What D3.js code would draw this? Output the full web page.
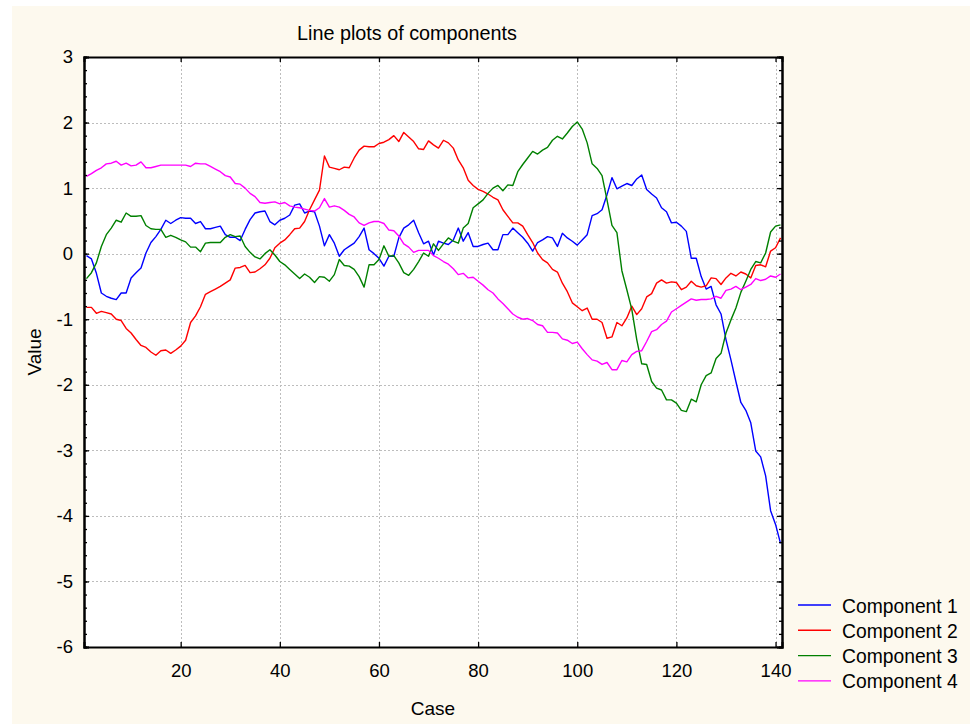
<!DOCTYPE html>
<html>
<head>
<meta charset="utf-8">
<script src="https://cdn.jsdelivr.net/npm/d3@7"></script>
<style>
  body { margin: 0; background: #ffffff; }
  text { font-family: "Liberation Sans", Arial, sans-serif; fill: #000; }
</style>
</head>
<body>
<div id="chart"></div>
<script>
// Data
const seriesNames = ["Component 1", "Component 2", "Component 3", "Component 4"];
const seriesColors = ["#0000ff", "#ff0000", "#008000", "#ff00ff"];
const yTicks = [3, 2, 1, 0, -1, -2, -3, -4, -5, -6];
const xTicks = [20, 40, 60, 80, 100, 120, 140];

const component1 = [
  -0.03, -0.08, -0.30, -0.60, -0.65, -0.68, -0.70, -0.60, -0.60, -0.37,
  -0.29, -0.22, 0.01, 0.17, 0.26, 0.37, 0.51, 0.46, 0.51, 0.55,
  0.54, 0.54, 0.46, 0.49, 0.38, 0.38, 0.40, 0.42, 0.29, 0.25,
  0.25, 0.20, 0.37, 0.52, 0.62, 0.64, 0.65, 0.49, 0.44, 0.51,
  0.54, 0.59, 0.74, 0.76, 0.62, 0.65, 0.64, 0.42, 0.12, 0.29,
  0.16, -0.04, 0.06, 0.11, 0.16, 0.26, 0.39, 0.06, 0.00, -0.07,
  -0.19, -0.04, -0.04, 0.24, 0.39, 0.44, 0.51, 0.32, 0.15, 0.19,
  -0.02, 0.19, 0.16, 0.14, 0.21, 0.39, 0.19, 0.32, 0.11, 0.11,
  0.14, 0.16, 0.06, 0.06, 0.29, 0.29, 0.39, 0.32, 0.25, 0.16,
  0.04, 0.17, 0.21, 0.26, 0.24, 0.11, 0.31, 0.24, 0.19, 0.13,
  0.21, 0.29, 0.58, 0.61, 0.67, 0.90, 1.16, 0.99, 1.03, 1.07,
  1.04, 1.14, 1.20, 0.98, 0.91, 0.85, 0.70, 0.64, 0.47, 0.48,
  0.42, 0.34, -0.07, -0.07, -0.35, -0.54, -0.50, -0.78, -0.92, -1.31,
  -1.62, -1.95, -2.27, -2.39, -2.58, -3.01, -3.10, -3.39, -3.92, -4.13,
  -4.42
];
const component2 = [
  -0.82, -0.82, -0.91, -0.88, -0.90, -0.92, -1.00, -1.02, -1.14, -1.21,
  -1.31, -1.40, -1.43, -1.50, -1.55, -1.48, -1.47, -1.52, -1.47, -1.41,
  -1.32, -1.05, -0.95, -0.81, -0.62, -0.58, -0.54, -0.50, -0.45, -0.40,
  -0.22, -0.21, -0.18, -0.29, -0.28, -0.23, -0.17, -0.07, 0.09, 0.16,
  0.21, 0.29, 0.38, 0.39, 0.49, 0.67, 0.82, 0.97, 1.49, 1.32,
  1.30, 1.28, 1.32, 1.31, 1.46, 1.58, 1.64, 1.63, 1.63, 1.68,
  1.70, 1.74, 1.80, 1.71, 1.85, 1.78, 1.71, 1.60, 1.59, 1.72,
  1.66, 1.61, 1.73, 1.69, 1.61, 1.43, 1.31, 1.12, 1.04, 0.98,
  0.95, 0.91, 0.86, 0.82, 0.67, 0.57, 0.47, 0.47, 0.42, 0.29,
  0.17, 0.01, -0.09, -0.14, -0.24, -0.28, -0.45, -0.58, -0.75, -0.81,
  -0.87, -0.83, -1.00, -1.00, -1.05, -1.29, -1.27, -1.05, -1.10, -0.98,
  -0.80, -0.93, -0.84, -0.66, -0.61, -0.45, -0.40, -0.45, -0.43, -0.44,
  -0.55, -0.51, -0.42, -0.49, -0.51, -0.49, -0.37, -0.38, -0.47, -0.37,
  -0.30, -0.34, -0.28, -0.31, -0.37, -0.18, -0.17, -0.20, 0.04, 0.09,
  0.24
];
const component3 = [
  -0.38, -0.29, -0.14, 0.11, 0.29, 0.39, 0.51, 0.48, 0.62, 0.57,
  0.57, 0.58, 0.43, 0.38, 0.37, 0.37, 0.25, 0.28, 0.25, 0.21,
  0.18, 0.10, 0.10, 0.03, 0.16, 0.17, 0.17, 0.17, 0.25, 0.29,
  0.26, 0.27, 0.11, 0.02, -0.05, -0.08, 0.00, 0.06, -0.02, -0.12,
  -0.17, -0.24, -0.31, -0.38, -0.31, -0.36, -0.44, -0.35, -0.36, -0.42,
  -0.32, -0.09, -0.18, -0.19, -0.24, -0.35, -0.51, -0.17, -0.17, -0.09,
  0.12, -0.04, -0.03, -0.14, -0.29, -0.33, -0.24, -0.12, 0.01, -0.04,
  0.15, 0.05, 0.15, 0.24, 0.19, 0.16, 0.39, 0.46, 0.70, 0.76,
  0.82, 0.92, 1.00, 1.04, 0.96, 1.05, 1.04, 1.25, 1.36, 1.46,
  1.56, 1.52, 1.58, 1.62, 1.73, 1.79, 1.75, 1.84, 1.94, 2.01,
  1.90, 1.69, 1.37, 1.30, 1.19, 0.82, 0.43, 0.32, -0.26, -0.55,
  -0.85, -1.31, -1.68, -1.69, -1.95, -2.05, -2.08, -2.23, -2.23, -2.28,
  -2.39, -2.41, -2.22, -2.26, -2.00, -1.86, -1.82, -1.60, -1.52, -1.21,
  -1.01, -0.83, -0.59, -0.42, -0.24, -0.12, -0.14, 0.01, 0.33, 0.42,
  0.44
];
const component4 = [
  1.18, 1.22, 1.27, 1.31, 1.37, 1.38, 1.41, 1.35, 1.38, 1.34,
  1.35, 1.40, 1.31, 1.31, 1.33, 1.35, 1.35, 1.35, 1.35, 1.35,
  1.35, 1.33, 1.38, 1.37, 1.37, 1.33, 1.29, 1.25, 1.19, 1.17,
  1.07, 1.06, 1.00, 0.92, 0.87, 0.78, 0.77, 0.78, 0.79, 0.76,
  0.78, 0.73, 0.71, 0.70, 0.68, 0.66, 0.65, 0.70, 0.84, 0.71,
  0.73, 0.71, 0.66, 0.60, 0.56, 0.47, 0.43, 0.47, 0.49, 0.49,
  0.46, 0.36, 0.35, 0.27, 0.15, 0.10, 0.02, 0.05, 0.05, 0.05,
  -0.03, -0.07, -0.12, -0.16, -0.23, -0.32, -0.30, -0.37, -0.36, -0.42,
  -0.48, -0.55, -0.60, -0.69, -0.76, -0.84, -0.92, -0.97, -1.00, -0.99,
  -1.02, -1.08, -1.10, -1.20, -1.20, -1.21, -1.30, -1.32, -1.37, -1.35,
  -1.45, -1.54, -1.62, -1.64, -1.69, -1.66, -1.77, -1.77, -1.63, -1.65,
  -1.54, -1.49, -1.48, -1.34, -1.19, -1.16, -1.08, -1.03, -0.89, -0.84,
  -0.79, -0.74, -0.69, -0.71, -0.70, -0.70, -0.69, -0.65, -0.68, -0.56,
  -0.54, -0.50, -0.55, -0.51, -0.47, -0.38, -0.41, -0.39, -0.34, -0.36,
  -0.31
];

const seriesValues = [component1, component2, component3, component4];

// Dimensions
const width = 970;
const height = 724;
const plot = { left: 84, top: 57, right: 782, bottom: 647 };
const labelSize = "19px";
const tickSize = "18.5px";

const svg = d3
  .select("#chart")
  .append("svg")
  .attr("width", width)
  .attr("height", height);

// cream panel behind everything
svg.append("rect")
  .attr("x", 12).attr("y", 6)
  .attr("width", width - 12).attr("height", height - 6)
  .attr("fill", "#fdf9ee");

svg.append("rect")
  .attr("x", plot.left).attr("y", plot.top)
  .attr("width", plot.right - plot.left)
  .attr("height", plot.bottom - plot.top)
  .attr("fill", "#ffffff");

// Scales
const xScale = d3.scaleLinear().domain([0.5, 141.3]).range([plot.left, plot.right]);
const yScale = d3.scaleLinear().domain([-6, 3]).range([plot.bottom, plot.top]);

// Grid
const grid = svg.append("g")
  .attr("stroke", "#bdbdbd")
  .attr("stroke-width", 1)
  .attr("stroke-dasharray", "2,2")
  .attr("shape-rendering", "crispEdges");
grid.selectAll(".gx").data(xTicks).join("line")
  .attr("x1", (d) => Math.round(xScale(d)) + 0.5)
  .attr("x2", (d) => Math.round(xScale(d)) + 0.5)
  .attr("y1", plot.top).attr("y2", plot.bottom);
grid.selectAll(".gy").data(yTicks.filter((d) => d > -6 && d < 3)).join("line")
  .attr("y1", (d) => Math.round(yScale(d)) + 0.5)
  .attr("y2", (d) => Math.round(yScale(d)) + 0.5)
  .attr("x1", plot.left).attr("x2", plot.right);

// Lines
const line = d3.line()
  .x((d, i) => xScale(i + 1))
  .y((d) => yScale(d));

svg.append("g").selectAll("path")
  .data(seriesValues)
  .join("path")
  .attr("d", line)
  .attr("fill", "none")
  .attr("stroke", (d, i) => seriesColors[i])
  .attr("stroke-width", 1.4)
  .attr("stroke-linejoin", "round");

// Axes (ticks point inward), plain hyphen for negatives
const minorY = d3.range(-6, 3.001, 0.2);
const yLeft = d3.axisLeft(yScale).tickValues(yTicks).tickSize(-5).tickPadding(11).tickFormat((d) => String(d));
const yLeftMinor = d3.axisLeft(yScale).tickValues(minorY).tickSize(-3).tickFormat("");
const yRight = d3.axisRight(yScale).tickValues(yTicks).tickSize(-5).tickFormat("");
const yRightMinor = d3.axisRight(yScale).tickValues(minorY).tickSize(-3).tickFormat("");
const xBottom = d3.axisBottom(xScale).tickValues(xTicks).tickSize(-5).tickPadding(17).tickFormat((d) => String(d));
const xTop = d3.axisTop(xScale).tickValues(xTicks).tickSize(-5).tickFormat("");

function styleAxis(g) {
  g.selectAll("path").attr("stroke", "#000").attr("stroke-width", 2);
  g.selectAll("line").attr("stroke", "#000").attr("stroke-width", 1.3);
  g.selectAll("text").style("font-size", tickSize).attr("fill", "#000")
    .style("font-family", '"Liberation Sans", Arial, sans-serif');
}

svg.append("g").attr("transform", `translate(${plot.left},0)`).call(yLeftMinor).call(styleAxis);
svg.append("g").attr("transform", `translate(${plot.left},0)`).call(yLeft).call(styleAxis);
svg.append("g").attr("transform", `translate(${plot.right},0)`).call(yRightMinor).call(styleAxis);
svg.append("g").attr("transform", `translate(${plot.right},0)`).call(yRight).call(styleAxis);
svg.append("g").attr("transform", `translate(0,${plot.bottom})`).call(xBottom).call(styleAxis);
svg.append("g").attr("transform", `translate(0,${plot.top})`).call(xTop).call(styleAxis);

// Titles
svg.append("text")
  .attr("x", 407).attr("y", 40)
  .attr("text-anchor", "middle")
  .style("font-size", "19.8px")
  .text("Line plots of components");

svg.append("text")
  .attr("x", 433).attr("y", 715)
  .attr("text-anchor", "middle")
  .style("font-size", labelSize)
  .text("Case");

svg.append("text")
  .attr("transform", "translate(40.5,352) rotate(-90)")
  .attr("text-anchor", "middle")
  .style("font-size", labelSize)
  .text("Value");

// Legend
const legend = svg.append("g").attr("transform", "translate(798,605)");
const rows = legend.selectAll("g").data(seriesNames).join("g")
  .attr("transform", (d, i) => `translate(0,${i * 25.3})`);
rows.append("line")
  .attr("x1", 0).attr("x2", 33)
  .attr("stroke", (d, i) => seriesColors[i])
  .attr("stroke-width", 1.4);
rows.append("text")
  .attr("x", 44).attr("y", 7.5)
  .style("font-size", "19.3px")
  .text((d) => d);
</script>
</body>
</html>
